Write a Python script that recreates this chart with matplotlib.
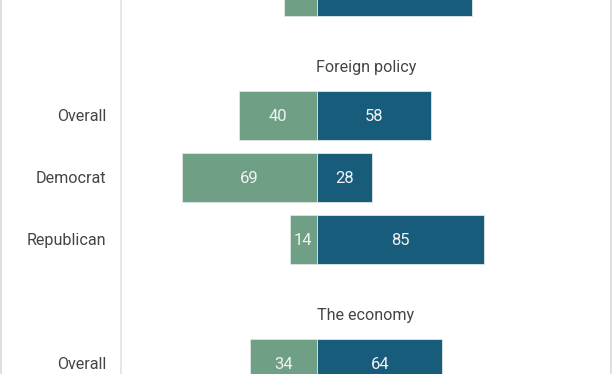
import matplotlib.pyplot as plt
from matplotlib.lines import Line2D

plt.rcParams['font.family'] = ['Roboto', 'DejaVu Sans']

# rows top to bottom (None = section title row)
row_labels = ["Republican", None, "Overall", "Democrat", "Republican", None, "Overall"]
titles = ["", "Foreign policy", "", "", "", "The economy", ""]
left_vals = [17, None, 40, 69, 14, None, 34]
right_vals = [79, None, 58, 28, 85, None, 64]

GREEN = "#6fa086"
BLUE = "#185c7c"
TEXT = "#444444"
PX = 1.96  # pixels per percentage point
DY = 0.03  # nudge text down a bit, va=center sits high

fig = plt.figure(figsize=(6.12, 3.74), dpi=100)
ax = fig.add_axes([121 / 612, 0, (611 - 121) / 612, 1])

for i, (lab, l, r) in enumerate(zip(row_labels, left_vals, right_vals)):
    if lab is None:
        ax.text(0.5, i + 0.23, titles[i], transform=ax.get_yaxis_transform(),
                ha="center", va="center", fontsize=11.6, color=TEXT)
        continue
    ax.barh(i, -l, height=0.79, color=GREEN, edgecolor="#dfe8e4", linewidth=0.6)
    ax.barh(i, r, height=0.79, color=BLUE, edgecolor="#dfe8e4", linewidth=0.6)
    ax.text(-l / 2, i + DY, str(l), ha="center", va="center", color="#f2f2f2", fontsize=12)
    ax.text(r / 2, i + DY, str(r), ha="center", va="center", color="#f2f2f2", fontsize=12)
    ax.text((106 - 317) / PX, i + DY, lab, ha="right", va="center", color=TEXT,
            fontsize=11.6, clip_on=False)

ax.set_xlim(-100, 150)
ax.set_ylim(6.177, 0.145)
ax.axis("off")

# vertical separator line and outer frame lines
fig.add_artist(Line2D([121 / 612, 121 / 612], [0, 1], color="#e3e3e3", lw=1.2))
fig.add_artist(Line2D([0.8 / 612, 0.8 / 612], [0, 1], color="#d9d9d9", lw=1.2))
fig.add_artist(Line2D([611.2 / 612, 611.2 / 612], [0, 1], color="#d9d9d9", lw=1.2))

fig.savefig("out.png", dpi=100)
